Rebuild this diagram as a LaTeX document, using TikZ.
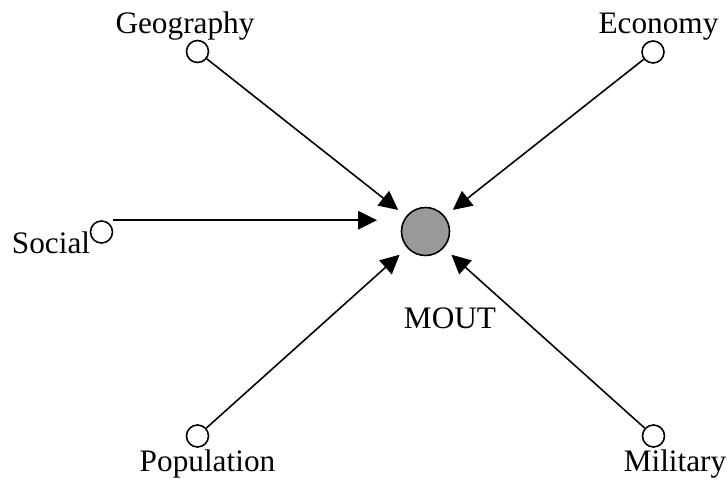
\documentclass[tikz,border=0pt]{standalone}
\usepackage{fontspec}
\setmainfont{Liberation Serif}
\usetikzlibrary{arrows.meta}
\definecolor{cfill}{HTML}{999999}
\definecolor{cline}{HTML}{000000}

\begin{document}
\begin{tikzpicture}[
  x=0.02cm, y=-0.02cm,
  font=\fontsize{17.8pt}{20pt}\selectfont,
  >={Triangle[length=3.8mm, width=3.7mm]},
  src/.style={draw=cline, circle, line width=0.9pt, minimum size=4.4mm, inner sep=0pt},
  hub/.style={src, fill=cfill, minimum size=9.6mm},
  lbl/.style={anchor=base, inner sep=0pt},
  arr/.style={->, line width=0.9pt, draw=cline, shorten >=2mm},
  ]
\useasboundingbox (0,0) rectangle (728,483);

\node[hub] (mout) at (425.5,231.5) {};
\node[src] (geo) at (197.5,51.5) {};
\node[src] (eco) at (653,52) {};
\node[src] (social) at (101.5,232) {};
\node[src] (pop) at (197.5,436) {};
\node[src] (mil) at (653.5,436) {};

\node[lbl] (tmout) at (450,329) {MOUT};
\node[lbl] (tgeo) at (185,34) {Geography};
\node[lbl] (teco) at (658.5,34) {Economy};
\node[lbl] (tsocial) at (51,254) {Social};
\node[lbl] (tpop) at (207.5,472) {Population};
\node[lbl] (tmil) at (675,472) {Military};

\coordinate (socend) at (377,219);

\draw[arr] (geo) -- (mout);
\draw[arr] (eco) -- (mout);
\draw[arr] (pop) -- (mout);
\draw[arr] (mil) -- (mout);
\draw[arr, shorten >=0pt] (social.north -| social.east) -- (social.north -| socend);
\end{tikzpicture}
\end{document}
